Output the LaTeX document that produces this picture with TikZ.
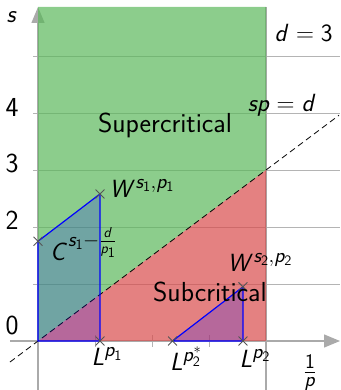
\documentclass[tikz,border=0pt]{standalone}
\usetikzlibrary{arrows.meta,shapes.misc}
\DeclareMathAlphabet{\mathsfit}{OT1}{cmss}{m}{sl}
\newcommand{\vi}[1]{\mathsfit{#1}}
\definecolor{gfill}{RGB}{91,184,91}
\definecolor{rfill}{RGB}{216,76,76}
\definecolor{axgray}{RGB}{170,170,170}
\definecolor{grgray}{RGB}{180,180,180}
\definecolor{xgray}{RGB}{85,85,85}
\tikzset{
  gridline/.style={draw=grgray, line width=0.9pt},
  axisline/.style={draw=axgray, line width=1.2pt},
  axisarrow/.style={axisline, -{Triangle[length=16pt,width=13pt]}},
  region/.style={fill opacity=0.7},
  bluepoly/.style={draw=blue, line width=1.2pt, fill=blue, fill opacity=0.2},
  xmark/.style={cross out, draw=xgray, line width=0.9pt, minimum size=8pt, inner sep=0pt},
  lbl/.style={inner sep=0pt}
}
\begin{document}
\begin{tikzpicture}[x=228pt,y=57pt,font=\fontsize{27.5}{32}\selectfont\sffamily]
\useasboundingbox (-0.16667,-0.85965) rectangle (1.32456,5.98246);
% grid lines
\foreach \s in {1,...,5}
  \draw[gridline] (-0.022,\s) -- (1.3246,\s);
\foreach \u in {0.25,0.5,0.75}
  \draw[gridline] (\u,-0.1) -- (\u,0.1);
% axes
\coordinate (xa0) at (-0.123,0);
\coordinate (xa1) at (1.3246,0);
\coordinate (ya0) at (0,-0.86);
\coordinate (ya1) at (0,5.86);
\coordinate (va0) at (1,-0.86);
\coordinate (va1) at (1,5.86);
\draw[axisline] (va0) -- (va1);
\draw[axisarrow] (xa0) -- (xa1);
\draw[axisarrow] (ya0) -- (ya1);
% regions
\coordinate (O) at (0,0);
\coordinate (R1) at (1,0);
\coordinate (R3) at (1,3);
\coordinate (Rt) at (1,5.86);
\coordinate (Lt) at (0,5.86);
\fill[gfill, region] (O) -- (R3) -- (Rt) -- (Lt) -- cycle;
\fill[rfill, region] (O) -- (R1) -- (R3) -- cycle;
% critical line
\coordinate (d0) at (-0.123,-0.369);
\coordinate (d1) at (1.32,3.96);
\draw[black, line width=0.8pt, dash pattern=on 6pt off 4pt] (d0) -- (d1);
% points
\coordinate (C1) at (0,1.75);
\coordinate (W1) at (0.272,2.58);
\coordinate (L1) at (0.272,0);
\coordinate (L2s) at (0.59,0);
\coordinate (L2) at (0.899,0);
\coordinate (W2) at (0.899,0.95);
\draw[bluepoly] (O) -- (L1) -- (W1) -- (C1) -- cycle;
\draw[bluepoly] (L2s) -- (L2) -- (W2) -- cycle;
\foreach \p in {C1,W1,L1,L2s,L2,W2}
  \node[xmark] at (\p) {};
% axis labels
\node[lbl] (ls) at (-0.114,5.68) {$\vi{s}$};
\node[lbl] (l4) at (-0.114,4.10) {4};
\node[lbl] (l3) at (-0.114,3.12) {3};
\node[lbl] (l2) at (-0.114,2.12) {2};
\node[lbl] (l0) at (-0.114,0.28) {0};
\node[lbl] (lp) at (1.193,-0.56) {$\frac{\mathsf{1}}{\vi{p}}$};
\node[lbl] (ld) at (1.165,5.40) {$\vi{d}=\mathsf{3}$};
\node[lbl] (lsp) at (1.07,4.14) {$\vi{s}\vi{p}=\vi{d}$};
\node[lbl] (lsup) at (0.557,3.79) {Supercritical};
\node[lbl] (lsub) at (0.754,0.86) {Subcritical};
% point labels
\node[lbl] (tW1) at (0.456,2.68) {$\vi{W}^{\vi{s}_{\mathsf{1}},\vi{p}_{\mathsf{1}}}$};
\node[lbl] (tC1) at (0.200,1.70) {$\vi{C}^{\vi{s}_{\mathsf{1}}-\frac{\vi{d}}{\vi{p}_{\mathsf{1}}}}$};
\node[lbl] (tL1) at (0.303,-0.28) {$\vi{L}^{\vi{p}_{\mathsf{1}}}$};
\node[lbl] (tL2s) at (0.649,-0.31) {$\vi{L}^{\vi{p}_{\mathsf{2}}^{*}}$};
\node[lbl] (tL2) at (0.952,-0.30) {$\vi{L}^{\vi{p}_{\mathsf{2}}}$};
\node[lbl] (tW2) at (0.974,1.37) {$\vi{W}^{\vi{s}_{\mathsf{2}},\vi{p}_{\mathsf{2}}}$};
\end{tikzpicture}
\end{document}
